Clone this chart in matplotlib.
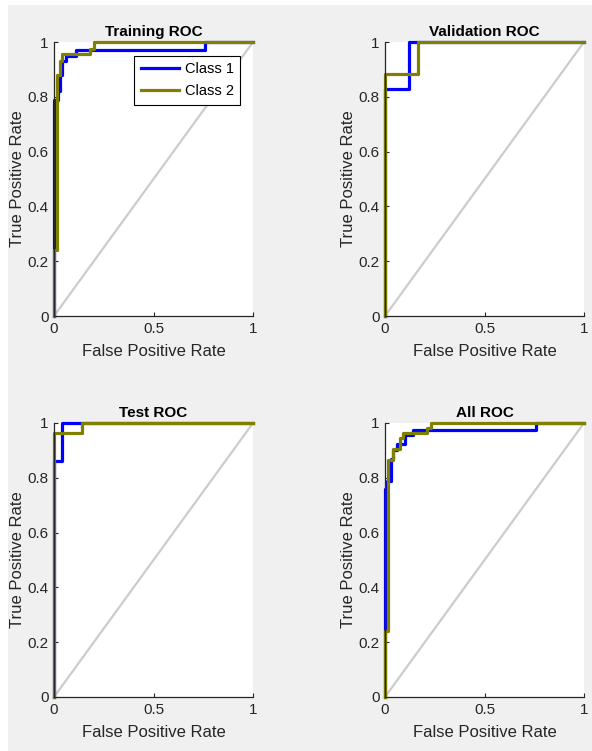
import matplotlib
matplotlib.use("Agg")
import matplotlib.pyplot as plt
from matplotlib import font_manager
from matplotlib.patches import Rectangle

# pick a narrow arial-like face if there is one
names = {f.name for f in font_manager.fontManager.ttflist}
if 'Liberation Sans Narrow' in names:
    plt.rcParams['font.family'] = ['Liberation Sans Narrow', 'DejaVu Sans']
else:
    plt.rcParams['font.family'] = ['Liberation Sans', 'DejaVu Sans']

# ROC curve vertices
train_fpr1 = [0, 0, 0.02, 0.02, 0.03, 0.03, 0.04, 0.04, 0.06, 0.06, 0.11, 0.11, 0.76, 0.76, 1]
train_tpr1 = [0, 0.79, 0.79, 0.82, 0.82, 0.88, 0.88, 0.93, 0.93, 0.95, 0.95, 0.97, 0.97, 1, 1]
train_fpr2 = [0, 0, 0.015, 0.015, 0.03, 0.03, 0.04, 0.04, 0.18, 0.18, 0.2, 0.2, 1]
train_tpr2 = [0, 0.24, 0.24, 0.88, 0.88, 0.93, 0.93, 0.955, 0.955, 0.975, 0.975, 1, 1]

val_fpr1 = [0, 0, 0.12, 0.12, 1]
val_tpr1 = [0, 0.83, 0.83, 1, 1]
val_fpr2 = [0, 0, 0.165, 0.165, 1]
val_tpr2 = [0, 0.885, 0.885, 1, 1]

test_fpr1 = [0, 0, 0.04, 0.04, 1]
test_tpr1 = [0, 0.86, 0.86, 1, 1]
test_fpr2 = [0, 0, 0.14, 0.14, 1]
test_tpr2 = [0, 0.965, 0.965, 1, 1]

all_fpr1 = [0, 0, 0.01, 0.01, 0.03, 0.03, 0.04, 0.04, 0.06, 0.06, 0.1, 0.1, 0.14, 0.14, 0.76, 0.76, 1]
all_tpr1 = [0, 0.76, 0.76, 0.79, 0.79, 0.87, 0.87, 0.9, 0.9, 0.925, 0.925, 0.955, 0.955, 0.975, 0.975, 1, 1]
all_fpr2 = [0, 0, 0.015, 0.015, 0.04, 0.04, 0.075, 0.075, 0.09, 0.09, 0.21, 0.21, 0.23, 0.23, 1]
all_tpr2 = [0, 0.24, 0.24, 0.865, 0.865, 0.905, 0.905, 0.945, 0.945, 0.962, 0.962, 0.98, 0.98, 1, 1]

titles = ['Training ROC', 'Validation ROC', 'Test ROC', 'All ROC']
curves = [(train_fpr1, train_tpr1, train_fpr2, train_tpr2),
          (val_fpr1, val_tpr1, val_fpr2, val_tpr2),
          (test_fpr1, test_tpr1, test_fpr2, test_tpr2),
          (all_fpr1, all_tpr1, all_fpr2, all_tpr2)]

BLUE = (0, 0, 1)
OLIVE = (0.5, 0.5, 0)

fig = plt.figure(figsize=(5.92, 7.51), dpi=100)
fig.patch.set_facecolor('white')
# matlab grey window
fig.patches.append(Rectangle((8 / 592, 0), 1, 746 / 751, transform=fig.transFigure,
                             facecolor='#f0f0f0', edgecolor='none', zorder=-10))

W, H = 592, 751
boxes = [(54, 42), (385, 42), (54, 423), (385, 423)]  # left, top in pixels

for i, (title, (f1, t1, f2, t2)) in enumerate(zip(titles, curves)):
    left, top = boxes[i]
    ax = fig.add_axes([left / W, 1 - (top + 274) / H, 199 / W, 274 / H])
    ax.set_facecolor('white')
    ax.plot([0, 1], [0, 1], color=(0.8, 0.8, 0.8), lw=1.6, clip_on=False)
    l1, = ax.plot(f1, t1, color=BLUE, lw=2.3, clip_on=False, label='Class 1')
    l2, = ax.plot(f2, t2, color=OLIVE, lw=2.3, clip_on=False, label='Class 2')
    ax.set_xlim(0, 1)
    ax.set_ylim(0, 1)
    ax.set_xticks([0, 0.5, 1])
    ax.set_xticklabels(['0', '0.5', '1'])
    ax.set_yticks([0, 0.2, 0.4, 0.6, 0.8, 1])
    ax.set_yticklabels(['0', '0.2', '0.4', '0.6', '0.8', '1'])
    ax.tick_params(direction='in', length=3, width=0.8, labelsize=11, pad=4, colors='#262626')
    for s in ['top', 'right']:
        ax.spines[s].set_visible(False)
    for s in ['left', 'bottom']:
        ax.spines[s].set_color('#262626')
        ax.spines[s].set_linewidth(0.9)
    ax.set_title(title, fontsize=11, fontweight='bold', pad=4)
    ax.set_xlabel('False Positive Rate', fontsize=12, color='#262626', labelpad=6)
    ax.set_ylabel('True Positive Rate', fontsize=12, color='#262626', labelpad=2)
    if i == 0:
        leg = ax.legend(handles=[l1, l2], loc='upper right', bbox_to_anchor=(0.935, 0.95),
                        fontsize=10.5, fancybox=False, framealpha=1, edgecolor='black',
                        handlelength=2.6, borderpad=0.45, labelspacing=0.55, handletextpad=0.4,
                        borderaxespad=0)
        leg.get_frame().set_linewidth(0.8)

fig.savefig('out.png', dpi=100)
